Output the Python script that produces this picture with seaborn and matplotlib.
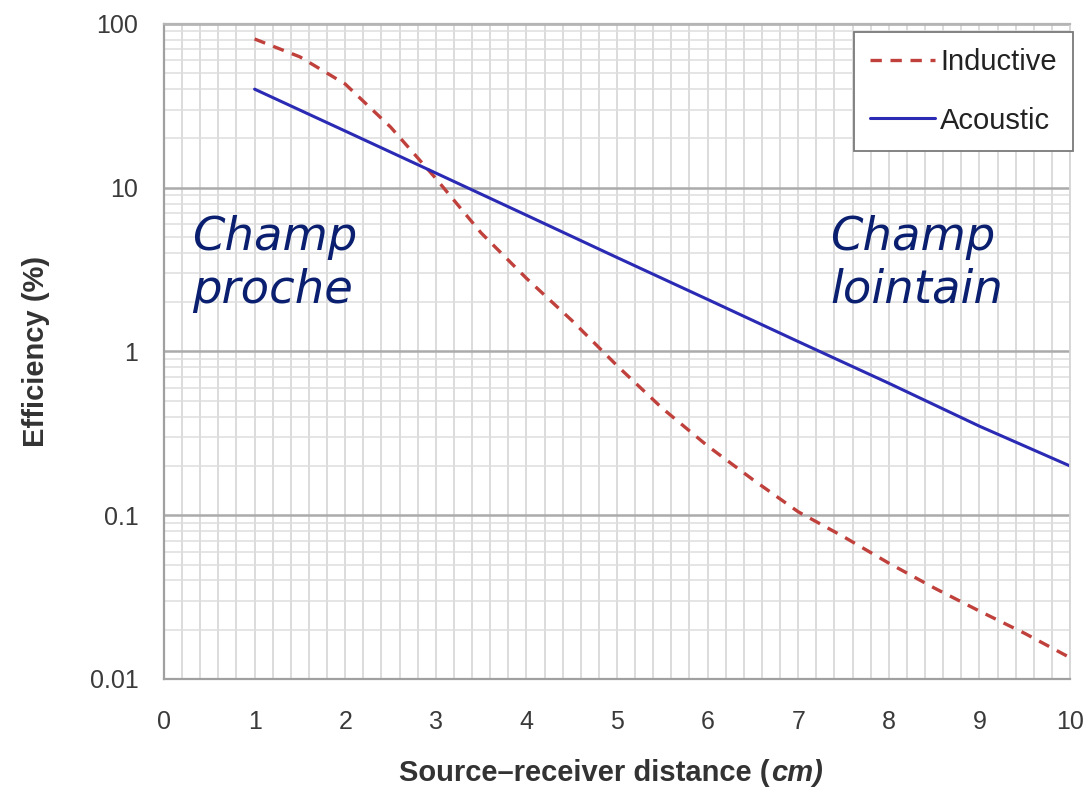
import numpy as np
import pandas as pd
import matplotlib
matplotlib.use("Agg")
import matplotlib.pyplot as plt
import seaborn as sns
from matplotlib.ticker import MultipleLocator, LogLocator, NullFormatter, FixedLocator, FixedFormatter
from matplotlib.offsetbox import TextArea, HPacker, AnchoredOffsetbox

# ---------------- data ----------------
distance_inductive = [1, 1.5, 2, 2.5, 3, 3.5, 4, 4.5, 5, 5.5, 6, 6.5, 7, 7.5, 8, 8.5, 9, 9.5, 10]
efficiency_inductive = [81, 63, 43, 23.5, 11.4, 5.3, 2.8, 1.55, 0.82, 0.45, 0.265, 0.165, 0.105,
                        0.074, 0.051, 0.036, 0.026, 0.019, 0.0135]
distance_acoustic = [1, 2, 3, 4, 5, 6, 7, 8, 9, 10]
efficiency_acoustic = [40, 22.2, 12.3, 6.8, 3.75, 2.08, 1.15, 0.64, 0.35, 0.2]

x_ticks = [0, 1, 2, 3, 4, 5, 6, 7, 8, 9, 10]
y_ticks = [0.01, 0.1, 1, 10, 100]
y_tick_labels = ["0.01", "0.1", "1", "10", "100"]
series_names = ["Inductive", "Acoustic"]
region_labels = ["Champ\nproche", "Champ\nlointain"]
x_label = "Source\u2013receiver distance ("
x_label_unit = "cm)"
y_label = "Efficiency (%)"

# ---------------- style ----------------
sns.set_theme(style="white")
plt.rcParams["font.family"] = ["Liberation Sans", "DejaVu Sans"]

W, H = 1087, 789
fig = plt.figure(figsize=(W / 100, H / 100), dpi=100)
ax = fig.add_axes([164 / W, 1 - 679 / H, (1070 - 164) / W, (679 - 24) / H])

ind_color = "#c0403c"
ac_color = "#2a2ab4"

sns.lineplot(x=distance_inductive, y=efficiency_inductive, ax=ax, color=ind_color,
             linewidth=2.4, label=series_names[0], linestyle="--")
sns.lineplot(x=distance_acoustic, y=efficiency_acoustic, ax=ax, color=ac_color,
             linewidth=2.2, label=series_names[1])
ax.lines[0].set_dashes((3.4, 2.6))

ax.set_yscale("log")
ax.set_xlim(0, 10)
ax.set_ylim(0.01, 100)

ax.xaxis.set_major_locator(FixedLocator(x_ticks))
ax.xaxis.set_minor_locator(MultipleLocator(0.2))
ax.yaxis.set_major_locator(FixedLocator(y_ticks))
ax.yaxis.set_major_formatter(FixedFormatter(y_tick_labels))
ax.yaxis.set_minor_locator(LogLocator(base=10, subs=np.arange(2, 10), numticks=20))
ax.yaxis.set_minor_formatter(NullFormatter())

ax.grid(True, axis="x", which="both", color="#d9d9d9", linewidth=1.3)
ax.grid(True, axis="y", which="minor", color="#dedede", linewidth=1.1)
ax.grid(True, axis="y", which="major", color="#ababab", linewidth=1.8)
ax.set_axisbelow(True)

for side in ["left", "bottom"]:
    ax.spines[side].set_color("#a0a0a0")
    ax.spines[side].set_linewidth(1.6)
ax.spines["top"].set_color("#b5b5b5")
ax.spines["top"].set_linewidth(1.6)
ax.spines["right"].set_color("#d6d6d6")
ax.spines["right"].set_linewidth(1.3)

ax.tick_params(axis="x", which="both", length=0, pad=22, labelsize=18, labelcolor="#3a3a3a")
ax.tick_params(axis="y", which="major", direction="out", length=6.5, width=1.3, color="#a0a0a0",
               pad=12, labelsize=18, labelcolor="#3a3a3a")
ax.tick_params(axis="y", which="minor", direction="in", length=4, width=1.0, color="#a0a0a0")

ax.set_ylabel(y_label, fontsize=21, fontweight="bold", color="#333333")
ax.yaxis.set_label_coords(-0.126, 0.5)
ax.set_xlabel("")

# x label with italic unit
ta1 = TextArea(x_label, textprops=dict(fontsize=21, fontweight="bold", color="#333333",
                                        family=["Liberation Sans"]))
ta2 = TextArea(x_label_unit, textprops=dict(fontsize=21, fontweight="bold", style="italic",
                                            color="#333333", family=["Liberation Sans"]))
pack = HPacker(children=[ta1, ta2], align="baseline", pad=0, sep=1)
anch = AnchoredOffsetbox(loc="center", child=pack, frameon=False,
                         bbox_to_anchor=(611 / W, 1 - 773 / H), bbox_transform=fig.transFigure,
                         borderpad=0, pad=0)
fig.add_artist(anch)

# legend
leg = ax.legend(loc="upper right", bbox_to_anchor=(1073 / W, 1 - 32 / H),
                bbox_transform=fig.transFigure, fontsize=21, frameon=True, fancybox=False,
                edgecolor="#7a7a7a", framealpha=1, handlelength=2.2, handletextpad=0.2,
                labelspacing=1.05, borderpad=0.55, borderaxespad=0)
leg.get_frame().set_linewidth(1.3)
for t in leg.get_texts():
    t.set_color("#222222")

# region annotations
txt_color = "#0a1f6f"
ax.text(0.031, 0.708, region_labels[0], transform=ax.transAxes, fontsize=33.5, style="italic",
        color=txt_color, family=["DejaVu Sans"], va="top", ha="left", linespacing=1.22)
ax.text(0.735, 0.708, region_labels[1], transform=ax.transAxes, fontsize=33.5, style="italic",
        color=txt_color, family=["DejaVu Sans"], va="top", ha="left", linespacing=1.22)

fig.savefig("out.png", dpi=100, facecolor="white")
